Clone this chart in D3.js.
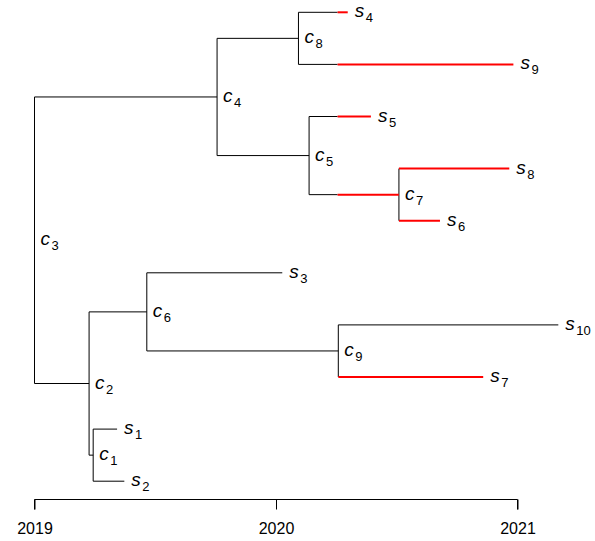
<!DOCTYPE html>
<html>
<head>
<meta charset="utf-8">
<script src="https://cdn.jsdelivr.net/npm/d3@7"></script>
<style>
  html, body { margin: 0; padding: 0; background: #fff; }
  svg { display: block; font-family: "Liberation Sans", Arial, sans-serif; }
</style>
</head>
<body>
<svg id="chart" width="595" height="541"></svg>
<script>
// ---- data ----
const tipOrder = ["s4", "s9", "s5", "s8", "s6", "s3", "s10", "s7", "s1", "s2"];
const nodeNames = ["c3", "c4", "c8", "s4", "s9", "c5", "s5", "c7", "s8", "s6",
                   "c2", "c6", "s3", "c9", "s10", "s7", "c1", "s1", "s2"];
const parentNames = [null, "c3", "c4", "c8", "c8", "c4", "c5", "c5", "c7", "c7",
                     "c3", "c2", "c6", "c6", "c9", "c9", "c2", "c1", "c1"];
const nodeTimes = [2019.000, 2019.756, 2020.093, 2020.297, 2020.983, 2020.137, 2020.393, 2020.509, 2020.966, 2020.679,
                   2019.226, 2019.465, 2020.026, 2020.258, 2021.169, 2020.858, 2019.243, 2019.342, 2019.372];
const redNodes = ["s4", "s9", "s5", "c7", "s8", "s6", "s7"];
const redFrom = 2020.255;
const axisTicks = [2019, 2020, 2021];

// ---- build tree ----
const table = nodeNames.map((n, i) => ({ id: n, parent: parentNames[i], t: nodeTimes[i] }));
const root = d3.stratify().id(d => d.id).parentId(d => d.parent)(table);

const x = d3.scaleLinear().domain([2019, 2021]).range([34.5, 517.5]);
const yTip = d3.scaleLinear().domain([0, tipOrder.length - 1]).range([12.3, 481.2]);

root.eachAfter(n => {
  if (!n.children) n.y = yTip(tipOrder.indexOf(n.id));
  else n.y = d3.mean(n.children, c => c.y);
  n.x = x(n.data.t);
});

const svg = d3.select("#chart");
const g = svg.append("g");

// vertical connectors
root.each(n => {
  if (!n.children) return;
  const ys = n.children.map(c => c.y);
  g.append("line")
    .attr("x1", n.x).attr("x2", n.x)
    .attr("y1", d3.min(ys)).attr("y2", d3.max(ys))
    .attr("stroke", "#000").attr("stroke-width", 1);
});

// horizontal branches
root.descendants().forEach(n => {
  if (!n.parent) return;
  const px = n.parent.x;
  const isRed = redNodes.includes(n.id);
  if (isRed) {
    const rs = Math.max(n.parent.data.t, redFrom);
    const rx = x(rs);
    if (rx > px + 0.01) {
      g.append("line").attr("x1", px).attr("x2", rx).attr("y1", n.y).attr("y2", n.y)
        .attr("stroke", "#000").attr("stroke-width", 1);
    }
    g.append("line").attr("x1", rx).attr("x2", n.x).attr("y1", n.y).attr("y2", n.y)
      .attr("stroke", "#ff0000").attr("stroke-width", 2);
  } else {
    g.append("line").attr("x1", px).attr("x2", n.x).attr("y1", n.y).attr("y2", n.y)
      .attr("stroke", "#000").attr("stroke-width", 1);
  }
});

// labels
root.descendants().forEach(n => {
  const isTip = !n.children;
  const letter = n.id.charAt(0);
  const sub = n.id.slice(1);
  const tx = n.x + (isTip ? 7 : 6);
  const t = g.append("text")
    .attr("x", tx)
    .attr("y", n.y + 5)
    .attr("fill", "#000");
  t.append("tspan")
    .attr("font-size", 19)
    .attr("font-style", "italic")
    .text(letter);
  t.append("tspan")
    .attr("font-size", 13)
    .attr("dx", 1.5)
    .attr("dy", 5)
    .text(sub);
});

// axis
const axis = d3.axisBottom(x)
  .tickValues(axisTicks)
  .tickFormat(d3.format("d"))
  .tickSize(10)
  .tickPadding(13);
const ax = svg.append("g").attr("transform", "translate(0,499.5)").call(axis);
ax.select(".domain").attr("stroke", "#000").attr("d", `M${x(2019)},10V0H${x(2021)}V10`);
ax.selectAll(".tick line").attr("stroke", "#000");
ax.selectAll(".tick text")
  .attr("font-size", 16)
  .attr("font-family", "Liberation Sans, Arial, sans-serif")
  .attr("fill", "#000");
</script>
</body>
</html>
